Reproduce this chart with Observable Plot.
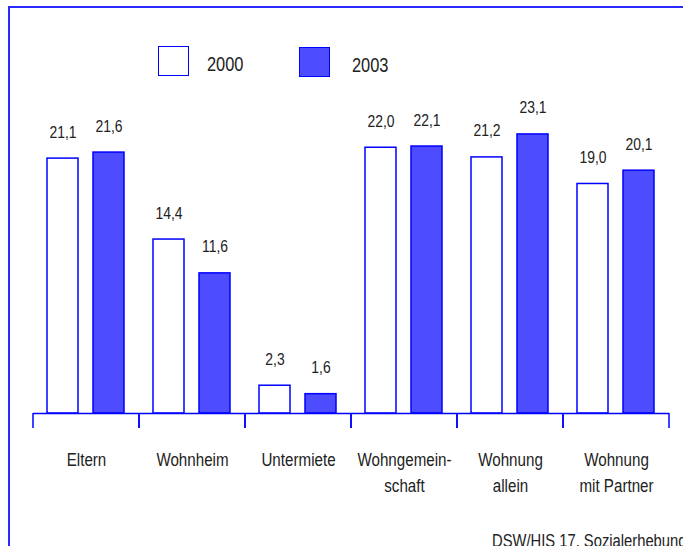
<!DOCTYPE html>
<html><head><meta charset="utf-8">
<script src="https://cdn.jsdelivr.net/npm/d3@7"></script>
<script src="https://cdn.jsdelivr.net/npm/@observablehq/plot@0.6"></script>
<style>
body{margin:0;background:#fff;}
#wrap{position:relative;width:683px;height:546px;overflow:hidden;background:#fff;
  font-family:"Liberation Sans",Arial,sans-serif;color:#222;}
#frame{position:absolute;left:8px;top:6px;width:720px;height:600px;border-left:2px solid #2a2aff;border-top:2px solid #2a2aff;}
#chart{position:absolute;left:0;top:0;}
.lg-box{position:absolute;width:29px;height:28px;border:1.5px solid #0000ff;}
.lg-text{position:absolute;font-size:20px;line-height:20px;transform:scaleX(0.82);transform-origin:0 0;}
#source{position:absolute;left:492px;top:532px;font-size:18px;line-height:18px;white-space:nowrap;transform:scaleX(0.82);transform-origin:0 0;}
</style></head>
<body><div id="wrap">
<div id="frame"></div>
<div id="chart"></div>
<div id="legend"></div>
<div id="source"></div>
</div>
<script>
const categories = ["Eltern", "Wohnheim", "Untermiete", "Wohngemein-\nschaft", "Wohnung\nallein", "Wohnung\nmit Partner"];
const years = ["2000", "2003"];
const values2000 = [21.1, 14.4, 2.3, 22.0, 21.2, 19.0];
const values2003 = [21.6, 11.6, 1.6, 22.1, 23.1, 20.1];
const yearColors = ["#ffffff", "#4d4dff"];
const sourceText = "DSW/HIS 17. Sozialerhebung";

const data = categories.flatMap((c, i) => [
  {cat: c, year: years[0], value: values2000[i]},
  {cat: c, year: years[1], value: values2003[i]}
]);
const fmt = v => d3.format(".1f")(v).replace(".", ",");

function edgeTicks(index, scales, values, dimensions) {
  const {marginLeft, marginRight, width} = dimensions;
  const y0 = scales.y(0);
  const g = d3.create("svg:g").attr("stroke", "#0000ff").attr("stroke-width", 1.5);
  for (const x of [marginLeft, width - marginRight]) {
    g.append("line").attr("x1", x).attr("x2", x).attr("y1", y0).attr("y2", y0 + 15);
  }
  return g.node();
}

const chart = Plot.plot({
  width: 683,
  height: 546,
  marginLeft: 32,
  marginRight: 14,
  marginTop: 50.6,
  marginBottom: 133,
  style: {fontFamily: '"Liberation Sans",Arial,sans-serif', color: "#222", background: "transparent"},
  fx: {domain: categories, padding: 0, label: null},
  x: {domain: years, paddingInner: 0.326, paddingOuter: 0.315, axis: null},
  y: {domain: [0, 30], axis: null},
  color: {domain: years, range: yearColors},
  marks: [
    Plot.barY(data, {fx: "cat", x: "year", y: "value", fill: "year", stroke: "#0000ff", strokeWidth: 1.5}),
    Plot.text(data, {fx: "cat", x: "year", y: "value", text: d => fmt(d.value), lineAnchor: "bottom", dy: -21, fontSize: 17, fill: "#222"}),
    Plot.ruleY([0], {stroke: "#0000ff", strokeWidth: 1.5}),
    edgeTicks,
    Plot.axisFx({anchor: "bottom", tickSize: 0, tickPadding: 34, fontSize: 18.5, lineHeight: 1.4, label: null, fill: "#222"})
  ]
});
// condense glyphs horizontally (no condensed font installed)
chart.querySelectorAll("text").forEach(t => {
  const tr = t.getAttribute("transform");
  if (tr) t.setAttribute("transform", tr + " scale(0.82,1)");
});
document.getElementById("chart").appendChild(chart);

const legend = document.getElementById("legend");
const lgPos = [{bx: 158, by: 46, tx: 207, ty: 53.5}, {bx: 299, by: 47, tx: 352, ty: 55}];
years.forEach((y, i) => {
  const b = document.createElement("div");
  b.className = "lg-box";
  b.style.left = lgPos[i].bx + "px";
  b.style.top = lgPos[i].by + "px";
  b.style.background = yearColors[i];
  legend.appendChild(b);
  const t = document.createElement("div");
  t.className = "lg-text";
  t.style.left = lgPos[i].tx + "px";
  t.style.top = lgPos[i].ty + "px";
  t.textContent = y;
  legend.appendChild(t);
});
document.getElementById("source").textContent = sourceText;
</script>
</body></html>
